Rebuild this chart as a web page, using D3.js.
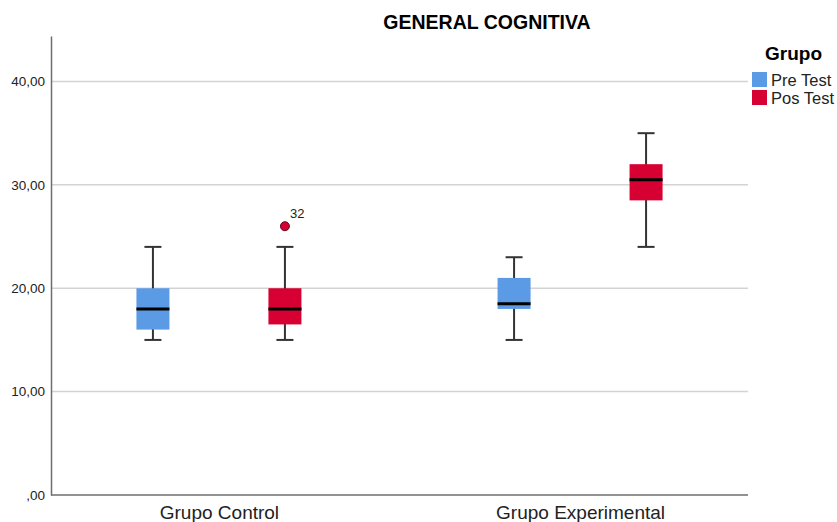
<!DOCTYPE html>
<meta charset="utf-8">
<script src="https://d3js.org/d3.v7.min.js"></script>
<style>
body { margin: 0; background: #fff; }
text { font-family: "Liberation Sans", Arial, sans-serif; }
</style>
<body>
<div id="chart"></div>
</body>
<script>
// data
const groups = ["Grupo Control", "Grupo Experimental"];
const tests = ["Pre Test", "Pos Test"];
const colors = ["#5b9be5", "#d60032"];
// [group, test, low whisker, q1, median, q3, high whisker]
const boxes = [
	["Grupo Control", "Pre Test", 15, 16, 18, 20, 24],
	["Grupo Control", "Pos Test", 15, 16.5, 18, 20, 24],
	["Grupo Experimental", "Pre Test", 15, 18, 18.5, 21, 23],
	["Grupo Experimental", "Pos Test", 24, 28.5, 30.5, 32, 35]
];
const outliers = [["Grupo Control", "Pos Test", 26, "32"]];
const yTicks = [0, 10, 20, 30, 40];

const W = 837, H = 522;
const margin = {top: 36, right: 89, bottom: 27, left: 51};
const width = W - margin.left - margin.right,
	height = H - margin.top - margin.bottom;

const svg = d3.select("#chart").append("svg")
	.attr("width", W).attr("height", H);

const g = svg.append("g")
	.attr("transform", `translate(${margin.left}, ${margin.top})`);

const y = d3.scaleLinear().domain([0, 44.4]).range([height, 0]);
const x = d3.scalePoint().domain(groups).range([0, width]).padding(0.465);
const xSub = d3.scalePoint().domain(tests).range([-66, 66]);
const boxW = 33;
const color = d3.scaleOrdinal().domain(tests).range(colors);

// grid lines
g.append("g").selectAll("line")
	.data(yTicks.filter(d => d > 0))
	.enter().append("line")
		.attr("x1", 0).attr("x2", width)
		.attr("y1", d => y(d)).attr("y2", d => y(d))
		.style("stroke", "#d3d3d3").style("stroke-width", 1.5);

// y axis
const yAxis = g.append("g")
	.call(d3.axisLeft(y).tickValues(yTicks).tickSize(0).tickPadding(6)
		.tickFormat(d => d === 0 ? ",00" : d3.format(".2f")(d).replace(".", ",")));
yAxis.select(".domain").style("stroke", "#6e6e6e").style("stroke-width", 1.5);
yAxis.selectAll("text").style("font-size", "13.5px").style("fill", "#222");

// x axis
const xAxis = g.append("g")
	.attr("transform", `translate(0, ${height})`)
	.call(d3.axisBottom(x).tickSize(0).tickPadding(11));
xAxis.select(".domain").attr("d", `M0,0H${width}`).style("stroke", "#6e6e6e").style("stroke-width", 1.5);
xAxis.selectAll("text").style("font-size", "19px").style("fill", "#222");

const cx = d => x(d[0]) + xSub(d[1]);

const box = g.append("g").selectAll("g")
	.data(boxes).enter().append("g");

// whiskers
box.append("line")
	.attr("x1", cx).attr("x2", cx)
	.attr("y1", d => y(d[2])).attr("y2", d => y(d[6]))
	.style("stroke", "#333").style("stroke-width", 2);
[2, 6].forEach(k => {
	box.append("line")
		.attr("x1", d => cx(d) - 8.5).attr("x2", d => cx(d) + 8.5)
		.attr("y1", d => y(d[k])).attr("y2", d => y(d[k]))
		.style("stroke", "#333").style("stroke-width", 2);
});
box.append("rect")
	.attr("x", d => cx(d) - boxW / 2).attr("width", boxW)
	.attr("y", d => y(d[5])).attr("height", d => y(d[3]) - y(d[5]))
	.style("fill", d => color(d[1]));
box.append("line")
	.attr("x1", d => cx(d) - boxW / 2).attr("x2", d => cx(d) + boxW / 2)
	.attr("y1", d => y(d[4])).attr("y2", d => y(d[4]))
	.style("stroke", "#000").style("stroke-width", 3);

// outliers
const out = g.append("g").selectAll("g")
	.data(outliers).enter().append("g");
out.append("circle")
	.attr("cx", cx).attr("cy", d => y(d[2])).attr("r", 4.5)
	.style("fill", d => color(d[1])).style("stroke", "#5a1020").style("stroke-width", 1);
out.append("text")
	.attr("x", d => cx(d) + 5).attr("y", d => y(d[2]) - 8)
	.style("font-size", "13px").style("fill", "#222")
	.text(d => d[3]);

// title
svg.append("text")
	.attr("x", 487).attr("y", 29)
	.attr("text-anchor", "middle")
	.style("font-size", "19.5px").style("font-weight", "bold")
	.text("GENERAL COGNITIVA");

// legend
const legend = svg.append("g").attr("transform", "translate(752, 0)");
legend.append("text")
	.attr("x", 13).attr("y", 60)
	.style("font-size", "19px").style("font-weight", "bold")
	.text("Grupo");
const item = legend.selectAll(".item")
	.data(tests).enter().append("g")
	.attr("transform", (d, i) => `translate(0, ${72 + i * 18})`);
item.append("rect")
	.attr("width", 15).attr("height", 15)
	.style("fill", d => color(d));
item.append("text")
	.attr("x", 19).attr("y", 14)
	.style("font-size", "16.5px").style("fill", "#222")
	.text(d => d);
</script>
